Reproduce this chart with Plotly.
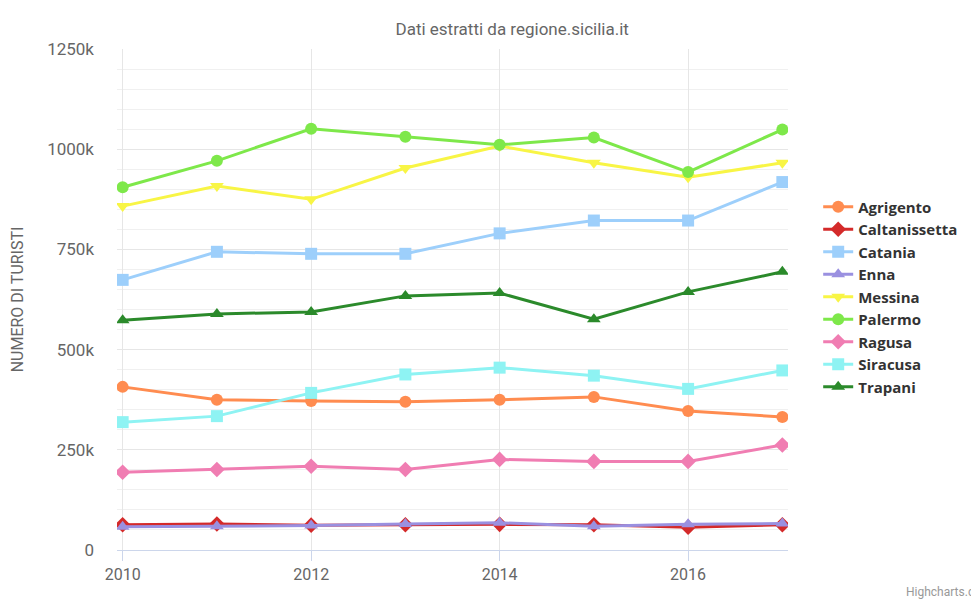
import plotly.graph_objects as go

years = [2010, 2011, 2012, 2013, 2014, 2015, 2016, 2017]

agrigento = [407000, 375000, 372000, 370000, 375000, 382000, 347000, 332000]
caltanissetta = [63000, 65000, 62000, 63000, 64000, 63000, 57000, 63000]
catania = [674000, 744000, 739000, 739000, 790000, 822000, 822000, 918000]
enna = [58000, 59000, 61000, 65000, 68000, 59000, 64000, 66000]
messina = [858000, 908000, 875000, 953000, 1008000, 966000, 930000, 966000]
palermo = [905000, 971000, 1051000, 1031000, 1011000, 1029000, 943000, 1049000]
ragusa = [194000, 201000, 209000, 201000, 226000, 221000, 221000, 262000]
siracusa = [319000, 334000, 392000, 438000, 455000, 435000, 402000, 448000]
trapani = [573000, 589000, 594000, 634000, 641000, 576000, 644000, 694000]

y_tick_vals = [0, 250000, 500000, 750000, 1000000, 1250000]
y_tick_text = ["0", "250k", "500k", "750k", "1000k", "1250k"]
x_tick_vals = [2010, 2012, 2014, 2016]

FONT = "Roboto, sans-serif"

# name, values, colour, marker symbol
series = [
    ("Agrigento", agrigento, "#ff8c50", "circle"),
    ("Caltanissetta", caltanissetta, "#d42a2a", "diamond"),
    ("Catania", catania, "#9dcffb", "square"),
    ("Enna", enna, "#9a90e0", "triangle-up"),
    ("Messina", messina, "#f8f545", "triangle-down"),
    ("Palermo", palermo, "#7ee84a", "circle"),
    ("Ragusa", ragusa, "#f07db2", "diamond"),
    ("Siracusa", siracusa, "#8ef3f3", "square"),
    ("Trapani", trapani, "#2b8a2b", "triangle-up"),
]

fig = go.Figure()
for name, vals, color, symbol in series:
    fig.add_trace(go.Scatter(
        x=years, y=vals, name=name, mode="lines+markers",
        line=dict(color=color, width=3),
        marker=dict(color=color, symbol=symbol, size=12),
    ))

# the page body adds an 8px offset, so margins are shifted to compensate
fig.update_layout(
    width=979, height=599,
    margin=dict(l=109, r=199, t=41, b=57),
    paper_bgcolor="white", plot_bgcolor="white",
    font=dict(family=FONT, color="#666666", size=16),
    title=dict(text="Dati estratti da regione.sicilia.it", x=0.515, xref="container",
               xanchor="center", y=0.965, yanchor="middle",
               font=dict(size=17, color="#666666", family=FONT)),
    legend=dict(
        x=1.045, xanchor="left", y=0.505, yanchor="middle",
        font=dict(size=15, color="#333333", family="Open Sans, sans-serif",
                  weight="bold"),
        tracegroupgap=0, itemwidth=30,
        bgcolor="rgba(0,0,0,0)",
    ),
    showlegend=True,
)

fig.update_xaxes(
    range=[2009.94, 2017.06], automargin=False,
    tickvals=x_tick_vals, ticktext=[str(v) for v in x_tick_vals],
    showgrid=True, gridcolor="#e6e6e6", gridwidth=1,
    zeroline=False,
    showline=True, linecolor="#ccd6eb", linewidth=1,
    ticks="outside", ticklen=10, tickcolor="#ccd6eb",
    tickfont=dict(size=16, color="#666666"),
)

fig.update_yaxes(
    range=[0, 1250000], automargin=False,
    tickvals=y_tick_vals, ticktext=y_tick_text,
    showgrid=True, gridcolor="#e6e6e6", gridwidth=1,
    minor=dict(dtick=50000, showgrid=True, gridcolor="#f0f0f0", gridwidth=1),
    zeroline=False, showline=False,
    ticklabelstandoff=22,
    tickfont=dict(size=17, color="#666666"),
    title=dict(text="NUMERO DI TURISTI", standoff=27,
               font=dict(size=16, color="#666666")),
)

fig.add_annotation(
    text="Highcharts.com", xref="paper", yref="paper", x=1, y=0,
    xanchor="left", yanchor="middle", xshift=116, yshift=-42,
    showarrow=False, font=dict(size=12, color="#999999", family=FONT),
)

fig.write_html("out.html")
